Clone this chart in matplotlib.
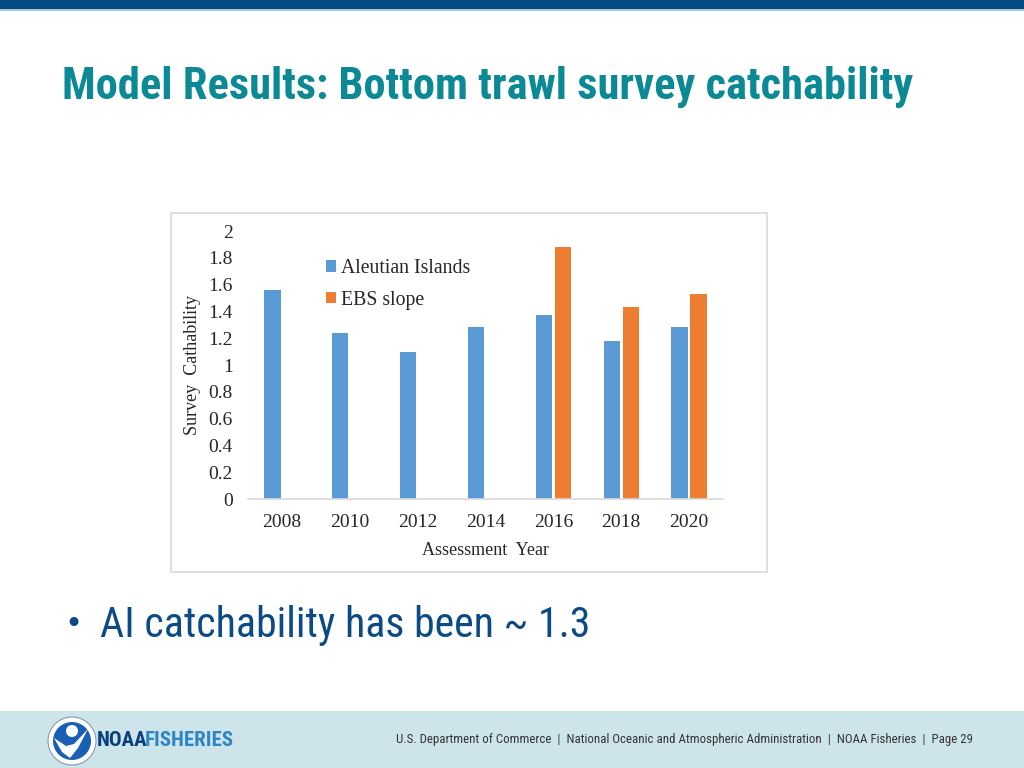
import matplotlib
matplotlib.use('Agg')
from matplotlib import pyplot as plt
from matplotlib import font_manager
from matplotlib.patches import Rectangle, Circle, Polygon
import numpy as np

years = ['2008', '2010', '2012', '2014', '2016', '2018', '2020']
aleutian = [1.56, 1.24, 1.10, 1.28, 1.37, 1.18, 1.28]
ebs_slope = [0, 0, 0, 0, 1.88, 1.43, 1.53]
series_names = ['Aleutian Islands', 'EBS slope']
yticks = [0, 0.2, 0.4, 0.6, 0.8, 1, 1.2, 1.4, 1.6, 1.8, 2]
ytick_labels = ['0', '0.2', '0.4', '0.6', '0.8', '1', '1.2', '1.4', '1.6', '1.8', '2']

title = 'Model Results: Bottom trawl survey catchability'
bullet = 'AI catchability has been ~ 1.3'
footer = ('U.S. Department of Commerce  |  National Oceanic and Atmospheric Administration'
          '  |  NOAA Fisheries  |  Page 29')

# the slide uses Arial Narrow; take a condensed face if one is there
installed = {f.name for f in font_manager.fontManager.ttflist}
if 'Roboto Condensed' in installed:
    narrow = ['Roboto Condensed', 'DejaVu Sans']
    scale = 1.0
elif 'Liberation Sans Narrow' in installed:
    narrow = ['Liberation Sans Narrow', 'DejaVu Sans']
    scale = 1.0
else:
    narrow = ['Liberation Sans', 'DejaVu Sans']
    scale = 0.86
serif = ['Liberation Serif', 'DejaVu Serif']

fig = plt.figure(figsize=(10.24, 7.68), dpi=100, facecolor='white')

# slide background layer in pixel coordinates
bg = fig.add_axes([0, 0, 1, 1])
bg.set_xlim(0, 1024)
bg.set_ylim(768, 0)
bg.axis('off')

bg.add_patch(Rectangle((0, 0), 1024, 9, color='#024a82', lw=0))
bg.add_patch(Rectangle((0, 9), 1024, 1.5, color='#a9c4dc', lw=0))
bg.text(62, 87, title, family=narrow, weight='bold', fontsize=32 * scale,
        color='#0b8995', va='center', ha='left')

# chart frame
bg.add_patch(Rectangle((171, 213), 596, 359, facecolor='white',
                       edgecolor='#d9d9d9', lw=1.2))

bg.text(64, 625, '\u2022', family='DejaVu Sans', fontsize=22, color='#0b4a85',
        va='center', ha='left')
bg.text(100, 625, bullet, family=narrow, fontsize=30.2 * scale, color='#0b4a85',
        va='center', ha='left')

# footer band
bg.add_patch(Rectangle((0, 711), 1024, 57, color='#cde5ea', lw=0))
bg.text(973, 740, footer, family=narrow, fontsize=9.3, color='#333333',
        va='center', ha='right')
# logo
bg.add_patch(Circle((72, 741), 24, facecolor='white', edgecolor='#8a9aa8', lw=0.8))
bg.add_patch(Circle((72, 741), 19, facecolor='#1a5fb4', lw=0))
bg.add_patch(Polygon([(54, 738), (66, 746), (74, 744), (88, 729), (78, 748),
                      (70, 758), (62, 752)], closed=True, facecolor='white', lw=0))
bg.add_patch(Circle((72, 731), 6, facecolor='white', lw=0))
bg.text(97, 741, 'NOAA', family=narrow, weight='bold', fontsize=15,
        color='#0a3e7d', va='center', ha='left')
bg.text(234, 741, 'FISHERIES', family=narrow, weight='bold', fontsize=15,
        color='#2c86c6', va='center', ha='right')

# the chart
ax = fig.add_axes([248 / 1024, 1 - 499 / 768, 475 / 1024, 268 / 768])
x = np.arange(len(years))
w = 0.24
ax.bar(x - 0.14, aleutian, w, color='#5b9bd5', label=series_names[0])
ax.bar(x + 0.14, ebs_slope, w, color='#ed7d31', label=series_names[1])
ax.set_xlim(-0.5, len(years) - 0.5)
ax.set_ylim(0, 2)
ax.set_yticks(yticks)
ax.set_yticklabels(ytick_labels)
ax.set_xticks(x)
ax.set_xticklabels(years)
for side in ['top', 'right', 'left']:
    ax.spines[side].set_visible(False)
ax.spines['bottom'].set_color('#d9d9d9')
ax.spines['bottom'].set_linewidth(1.2)
ax.tick_params(length=0, labelsize=14, colors='#262626')
ax.tick_params(axis='x', pad=11)
ax.tick_params(axis='y', pad=11)
for lab in ax.get_xticklabels() + ax.get_yticklabels():
    lab.set_family(serif)
ax.set_xlabel('Assessment  Year', family=serif, fontsize=13, color='#262626', labelpad=8)
ax.set_ylabel('Survey  Cathability', family=serif, fontsize=13, color='#262626', labelpad=5)
ax.patch.set_alpha(0)
ax.legend(loc='upper left', bbox_to_anchor=(0.127, 0.962), frameon=False,
          prop={'family': serif, 'size': 14.2}, handlelength=0.5, handleheight=0.5,
          handletextpad=0.25, labelspacing=0.65, labelcolor='#262626')

fig.savefig('out.png', dpi=100)
